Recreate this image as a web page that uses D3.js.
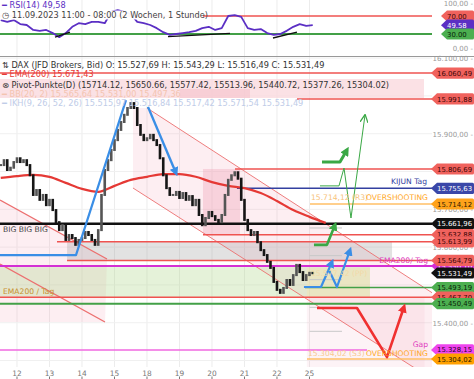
<!DOCTYPE html>
<html><head><meta charset="utf-8">
<script src="https://cdn.jsdelivr.net/npm/d3@7"></script>
<style>html,body{margin:0;padding:0;background:#fff;overflow:hidden}svg{display:block;font-family:"DejaVu Sans",sans-serif}</style>
</head><body><svg id="c" width="474" height="379"></svg>
<script>
// ---------------- DATA ----------------
const dayTicks = [1,2,3,4,5,6,7,8,9,10];
const dayLabels = ["12","13","14","15","18","19","20","21","22","25"];
const priceStart = 0.5, priceStep = 0.1;
const closes = [15817,15830,15804,15810,15825,15835,15825,15830,15817,15790,
 15738,15751,15725,15738,15711,15725,15698,15666,15645,15658,
 15619,15632,15624,15606,15619,15624,15640,15632,15619,15606,
 15645,15738,15804,15830,15857,15883,15910,15931,15950,15968,
 15981,15968,15923,15897,15883,15888,15897,15883,15870,15835,
 15790,15756,15738,15738,15746,15730,15743,15725,15735,15711,
 15725,15685,15658,15677,15693,15682,15672,15666,15685,15738,
 15778,15790,15798,15781,15725,15672,15645,15632,15640,15613,
 15592,15579,15561,15545,15508,15487,15479,15492,15513,15500,
 15526,15553,15534,15513,15526,15532,15531];
const emaStart = 0.5, emaStep = 0.5;
const ema200 = [15783,15788,15791,15786,15770,15754,15746,15762,15778,15786,15793,15793,15786,15772,15762,15756,15743,15722,15698,15680,15664];
const rsiStart = 0.5, rsiStep = 0.2;
const rsi = [61,57,61,52,50,39,37,39,32,23,32,46,54,52,57,57,54,79,83,79,74,57,54,50,43,34,28,30,32,34,37,43,46,39,43,70,72,68,43,39,41,32,28,30,37,46,52,48,49.58];
const rsiLevels = [70, 30];
const rsiLast = 49.58;
const rsiTrend1 = [[2.169,23.3],[2.631,34.4]];
const rsiTrend2 = [[5.646,24],[7.554,31.6]];
const rsiTrend3 = [[8.877,21.1],[9.615,34.4]];
const priceTicks = [15400,15600,15700,15900,16100];
const gridPrices = [15300,15400,15500,15600,15700,15800,15900,16000,16100];
const pivots = [15714.12, 15650.66, 15577.42, 15513.96, 15440.72, 15377.26, 15304.02];
const levelPrices = [16060.49, 15991.88, 15806.69, 15755.63, 15714.12, 15661.96, 15632.88, 15613.99, 15550.10, 15564.79, 15531.49, 15493.19, 15467.70, 15450.49, 15328.15, 15304.02];
const ohlc = {O:15527.69, H:15543.29, L:15516.49, C:15531.49};
const emaValue = 15671.43;
const bbValues = [15565.64, 15531.00, 15497.36];
const ikhValues = [15515.97, 15516.84, 15517.42, 15571.54, 15531.49];
// drawings (time in day units, price)
const blueUp = [[0.477,15579],[2.815,15579],[4.354,15989]];
const blueDown = [[5.031,15971],[5.892,15796]];
const blueZig1 = [[9.83,15494.5],[10.354,15494.5],[10.692,15560.6]];
const blueZig2 = [[10.6,15539.5],[10.846,15494.5],[11.246,15592]];
const greenHook = [[10.385,15825],[10.938,15825],[11.154,15857]];
const greenThin = [[10.323,15762],[10.908,15762],[11.062,15809],[11.277,15677],[11.708,15949]];
const greenSmall = [[10.138,15606],[10.538,15606],[10.785,15658.5]];
const redVee = [[10.231,15439],[11.462,15439],[12.385,15309],[12.908,15441.6]];
const mainChannelUpper = [[5.0,15968],[13.77,15479.4]];
const mainChannelLower = [[4.569,15756.4],[13.77,15251]];
const mainChannelArea = [[4.569,15968],[5.0,15968],[13.77,15479.4],[13.77,15251],[4.569,15756.4]];
const leftChannelUpper = [[0.477,15724.6],[3.769,15568.6]];
const leftChannelLower = [[0.477,15555.3],[3.708,15401.9]];
const leftArea = [[0.477,15724.6],[3.769,15568.6],[3.708,15401.9],[0.477,15401.9]];
const zoneGray = {t:[2.54,12.54], p:[15564.79,15613.99]};
const zoneGreen = {t:[0,11.86], p:[15468,15547]};
const zoneBeige = {t:[9.92,11.86], p:[15468,15545]};
const zonePinkBox = {t:[6.723,7.862], p:[15632,15806.69]};
const zonePinkRight = {t:[9.92,13.54], p:[15200,15468]};

// ---------------- STYLE ----------------
const W = 474, H = 379, PR = 432;
const RED = "#ef5350", TAGRED = "#f0625d";
const levelStyle = [
 {c:RED, t0:0, w:1.5, f:TAGRED, tc:"#3a0505"},
 {c:RED, t0:9.615, w:1.5, f:TAGRED, tc:"#3a0505"},
 {c:RED, t0:7.708, w:1.5, f:TAGRED, tc:"#3a0505"},
 {c:"#3340a0", t0:7.77, w:1.5, f:"#3a47a8", tc:"#fff"},
 {c:"#ffbf66", t0:10.015, w:1.5, f:"#ffa21a", tc:"#2a1a00"},
 {c:"#111", t0:0, w:2.5, f:"#111", tc:"#fff"},
 {c:RED, t0:6.723, w:1.5, f:TAGRED, tc:"#3a0505"},
 {c:RED, t0:2.231, w:1.5, f:TAGRED, tc:"#3a0505"},
 {c:"#d42fd4", t0:0, w:2, f:"#d42fd4", tc:"#fff"},
 {c:RED, t0:2.54, w:1.5, f:TAGRED, tc:"#3a0505"},
 {c:null, f:"#111", tc:"#fff"},
 {c:"#43a047", t0:9.862, w:1.5, f:"#4caf50", tc:"#082008"},
 {c:RED, t0:0, w:1.5, f:TAGRED, tc:"#3a0505"},
 {c:"#43a047", t0:0, w:2, f:"#4caf50", tc:"#082008"},
 {c:"#f068e0", t0:0, t1:11.77, w:1.5, f:"#ee44ee", tc:"#2a002a"},
 {c:"#ffbf66", t0:9.923, w:1.5, f:"#ffa000", tc:"#2a1a00"}
];

const fmt = d3.formatLocale({decimal:",", thousands:".", grouping:[3], currency:["",""]}).format(",.2f");
const svg = d3.select("#c");
const x = d3.scaleLinear().domain([0, 13.77]).range([-15.5, PR]);
const y = d3.scaleLinear().domain([15282.9, 16102.9]).range([367, 57]);
const yr = d3.scaleLinear().domain([0, 100]).range([47.5, 2.5]);
const xMax = 13.77;

const defs = svg.append("defs");
defs.append("clipPath").attr("id","cm").append("rect").attr("x",0).attr("y",57).attr("width",PR).attr("height",310);
defs.append("clipPath").attr("id","cr").append("rect").attr("x",0).attr("y",0).attr("width",PR).attr("height",56);
function marker(id, color, open){
  const m = defs.append("marker").attr("id",id).attr("viewBox","0 0 10 10").attr("refX",open?9:6).attr("refY",5)
    .attr("markerWidth",open?8:9).attr("markerHeight",open?8:9).attr("markerUnits","userSpaceOnUse").attr("orient","auto");
  if(open) m.append("path").attr("d","M0,0 L10,5 L0,10").attr("fill","none").attr("stroke",color).attr("stroke-width",1.6);
  else m.append("path").attr("d","M0,0 L10,5 L0,10 z").attr("fill",color);
}
marker("mb","#3a8ee6"); marker("mg","#3aa845"); marker("mgo","#3aa845",true); marker("mr","#f03030");

// grid
const grid = svg.append("g");
dayTicks.forEach(t=>{
  grid.append("line").attr("x1",x(t)).attr("x2",x(t)).attr("y1",0).attr("y2",367).attr("stroke","#ececec").attr("stroke-width",1);
});
gridPrices.forEach(p=>{
  grid.append("line").attr("x1",0).attr("x2",PR).attr("y1",y(p)).attr("y2",y(p)).attr("stroke","#f0f0f0").attr("stroke-width",1);
});

// ---------- main panel ----------
const main = svg.append("g").attr("clip-path","url(#cm)");
const pl = d3.line().x(d=>x(d[0])).y(d=>y(d[1]));
function rect(z, fill){
  main.append("rect").attr("x",x(z.t[0])).attr("width",x(z.t[1])-x(z.t[0]))
    .attr("y",y(z.p[1])).attr("height",y(z.p[0])-y(z.p[1])).attr("fill",fill);
}
main.append("path").attr("d",pl(mainChannelArea)+"Z").attr("fill","rgba(244,170,190,0.2)");
main.append("path").attr("d",pl(leftArea)+"Z").attr("fill","rgba(244,170,190,0.2)");
rect(zonePinkRight,"rgba(244,170,190,0.14)");
rect(zonePinkBox,"rgba(236,140,165,0.28)");
rect(zoneGray,"rgba(150,150,150,0.28)");
rect(zoneGreen,"rgba(175,215,140,0.33)");
rect(zoneBeige,"rgba(245,225,170,0.35)");

[mainChannelUpper, mainChannelLower, leftChannelUpper, leftChannelLower].forEach(l=>{
  main.append("path").attr("d",pl(l)).attr("stroke","#ec6f6f").attr("stroke-width",l===leftChannelUpper||l===leftChannelLower?1.4:0.9).attr("fill","none");
});

// pivot short lines
pivots.slice(1,6).forEach(p=>{
  main.append("line").attr("x1",x(10.0)).attr("x2",x(11.0)).attr("y1",y(p)).attr("y2",y(p)).attr("stroke","#c8c8c8").attr("stroke-width",1);
});

// level lines
levelPrices.forEach((p,i)=>{
  const s = levelStyle[i]; if(!s.c) return;
  main.append("line").attr("x1",x(s.t0)).attr("x2",x(s.t1||xMax)).attr("y1",y(p)).attr("y2",y(p))
    .attr("stroke",s.c).attr("stroke-width",s.w);
});

// EMA
main.append("path").datum(ema200).attr("d",d3.line().curve(d3.curveMonotoneX).x((d,i)=>x(emaStart+i*emaStep)).y(d=>y(d)))
  .attr("stroke","#e53935").attr("stroke-width",2.2).attr("fill","none");

// candles (body from previous close to close)
closes.forEach((c,i)=>{
  const o = i>0 ? closes[i-1] : c;
  const t = priceStart + i*priceStep;
  const top = y(Math.max(o,c)), bot = y(Math.min(o,c));
  main.append("rect").attr("x",x(t)-1.3).attr("width",2.6).attr("y",top-1).attr("height",Math.max(2,bot-top+2))
    .attr("fill",c>=o?"#555":"#161616");
});

// drawings
function draw(pts, color, w, mk){
  const p = main.append("path").attr("d",pl(pts)).attr("stroke",color).attr("stroke-width",w).attr("fill","none")
    .attr("stroke-linejoin","round");
  if(mk) p.attr("marker-end",`url(#${mk})`);
}
draw(blueUp,"#3a8ee6",2.2);
draw(blueDown,"#3a8ee6",2.4,"mb");
draw(blueZig1,"#3a8ee6",2.2,"mb");
draw(blueZig2,"#3a8ee6",2.2,"mb");
draw(greenHook,"#3aa845",3,"mg");
draw(greenThin,"#3aa845",1,"mgo");
draw(greenSmall,"#3aa845",2.6,"mg");
draw(redVee,"#f03030",2.6,"mr");

// in-chart texts
const tx = svg.append("g").attr("font-size",7.6);
function t(xp, yp, s, col, anchor){ tx.append("text").attr("x",xp).attr("y",yp).attr("fill",col).attr("text-anchor",anchor||"start").text(s); }
t(x(xMax)-5, y(levelPrices[3])-4, "KIJUN Tag", "#3340a0", "end");
t(x(10.015)+1, y(pivots[0])-4, fmt(pivots[0])+" (R3)", "#f7c27a");
t(x(xMax)-4, y(pivots[0])-4, "OVERSHOOTING", "#ffa726", "end");
t(3, y(levelPrices[5])+8.5, "BIG BIG BIG", "#444");
t(x(xMax)-4, y(levelPrices[9])+3, "EMA200/ Tag", "#e040c0", "end");
t(x(10.015)+1, y(pivots[3])-4, fmt(pivots[2])+" (PP)", "#f3d9a8");
t(3, y(levelPrices[12])-3, "EMA200 / Tag", "#c8902c");
t(x(xMax)-4, y(levelPrices[14])-3, "Gap", "#e040c0", "end");
t(x(9.923)+1, y(pivots[6])-3, fmt(pivots[6])+" (S3)", "#f8c890");
t(x(xMax)-4, y(pivots[6])-3, "OVERSHOOTING", "#ffa726", "end");

// ---------- legends ----------
const lg = svg.append("g").attr("font-size",8.2);
lg.append("rect").attr("x",0).attr("y",79).attr("width",424).attr("height",19).attr("fill","rgba(250,215,220,0.75)");
lg.append("rect").attr("x",180).attr("y",89).attr("width",70).attr("height",9).attr("fill","rgba(245,190,200,0.5)");
lg.append("text").attr("x",2).attr("y",68).attr("fill","#333").text("⇅ DAX (JFD Brokers, Bid) O: "+fmt(ohlc.O)+" H: "+fmt(ohlc.H)+" L: "+fmt(ohlc.L)+" C: "+fmt(ohlc.C));
lg.append("text").attr("x",2).attr("y",77).attr("fill","#e53935").text("━ EMA(200) "+fmt(emaValue));
lg.append("text").attr("x",2).attr("y",88).attr("fill","#333").text("⊗ Pivot-Punkte(D) ("+pivots.map(d=>d.toFixed(2)).join(", ")+")");
lg.append("text").attr("x",2).attr("y",97).attr("fill","#f4c4b0").text("━ BB(20, 2) "+bbValues.map(fmt).join(" "));
lg.append("text").attr("x",2).attr("y",106).attr("fill","#c0cce8").text("━ IKH(9, 26, 52, 26) "+ikhValues.map(fmt).join(" "));

// ---------- RSI panel ----------
const rp = svg.append("g").attr("clip-path","url(#cr)");
rp.append("line").attr("x1",0).attr("x2",PR).attr("y1",yr(rsiLevels[0])).attr("y2",yr(rsiLevels[0])).attr("stroke",RED).attr("stroke-width",1.5);
rp.append("line").attr("x1",0).attr("x2",PR).attr("y1",yr(rsiLevels[1])).attr("y2",yr(rsiLevels[1])).attr("stroke","#43a047").attr("stroke-width",2.2);
rp.append("path").datum(rsi).attr("d",d3.line().x((d,i)=>x(rsiStart+i*rsiStep)).y(d=>yr(d)))
  .attr("stroke","#5b2fc4").attr("stroke-width",1.8).attr("fill","none").attr("stroke-linejoin","round");
const rl = d3.line().x(d=>x(d[0])).y(d=>yr(d[1]));
[rsiTrend1,rsiTrend2,rsiTrend3].forEach(tr=>rp.append("path").attr("d",rl(tr)).attr("stroke","#111").attr("stroke-width",1.3));
svg.append("rect").attr("x",0).attr("y",10.5).attr("width",203).attr("height",9).attr("fill","#fff").attr("opacity",0.95);
svg.append("text").attr("x",2).attr("y",8).attr("font-size",8.2).attr("fill","#5b2fc4").text("━ RSI(14) "+rsiLast.toFixed(2).replace(".",","));
svg.append("text").attr("x",2).attr("y",18).attr("font-size",8.2).attr("fill","#444").text("◷ 11.09.2023 11:00 - 08:00 (2 Wochen, 1 Stunde)");
svg.append("line").attr("x1",0).attr("x2",W).attr("y1",56.5).attr("y2",56.5).attr("stroke","#999").attr("stroke-width",1);

// ---------- axes ----------
const ax = svg.append("g").attr("font-size",7).attr("fill","#9a9a9a");
priceTicks.forEach(p=>{
  ax.append("text").attr("x",473).attr("y",y(p)+3).attr("text-anchor","end").text(fmt(p)+" -");
});
ax.append("text").attr("x",473).attr("y",yr(100)+3).attr("text-anchor","end").text("100,00 -");
ax.append("text").attr("x",473).attr("y",yr(0)+3).attr("text-anchor","end").text("0,00 -");
dayTicks.forEach((d,i)=>{
  ax.append("text").attr("x",x(d)).attr("y",375.5).attr("text-anchor","middle").attr("fill","#777").attr("font-size",7.4).text(dayLabels[i]);
  ax.append("line").attr("x1",x(d)).attr("x2",x(d)).attr("y1",376.5).attr("y2",379).attr("stroke","#777");
});

// ---------- tags ----------
const tg = svg.append("g");
function tag(yp, text, fill, tc, x0){
  const h = 5.6, x1 = 474;
  tg.append("path").attr("d",`M${x0},${yp} L${x0+6},${yp-h} L${x1-1.5},${yp-h} Q${x1},${yp-h} ${x1},${yp-h+1.5} L${x1},${yp+h-1.5} Q${x1},${yp+h} ${x1-1.5},${yp+h} L${x0+6},${yp+h} Z`).attr("fill",fill);
  tg.append("text").attr("x",x0+6).attr("y",yp+2.6).attr("font-size",6.9).attr("fill",tc).text(text);
}
levelPrices.forEach((p,i)=>{ const s = levelStyle[i]; tag(y(p), fmt(p), s.f, s.tc, 431); });
tag(yr(rsiLevels[0]), rsiLevels[0].toFixed(2), TAGRED, "#3a0505", 441);
tag(yr(rsiLast), rsiLast.toFixed(2), "#5b2fc4", "#fff", 441);
tag(yr(rsiLevels[1]), rsiLevels[1].toFixed(2), "#4caf50", "#082008", 441);
</script></body></html>
